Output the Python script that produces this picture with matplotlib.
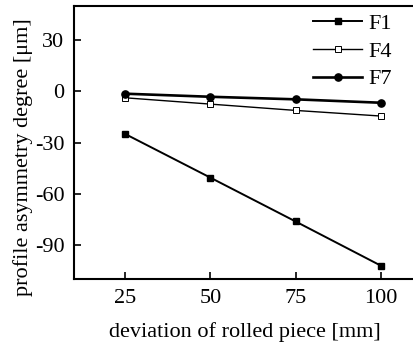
import matplotlib
matplotlib.use("Agg")
import matplotlib.pyplot as plt

x = [25, 50, 75, 100]
f1 = [-25.0, -50.6, -76.3, -102.2]
f4 = [-3.8, -7.5, -11.2, -14.5]
f7 = [-1.4, -3.2, -4.7, -6.7]
xticks = [25, 50, 75, 100]
yticks = [30, 0, -30, -60, -90]

plt.rcParams['font.family'] = ['Liberation Serif', 'DejaVu Serif']
plt.rcParams['axes.unicode_minus'] = False

fig = plt.figure(figsize=(4.13, 3.47), dpi=100)
ax = fig.add_axes([74/413, 1-279/347, (415-74)/413, (279-6)/347])

ax.plot(x, f1, color='black', lw=1.4, marker='s', ms=4.6, mfc='black', mec='black', label='F1')
ax.plot(x, f4, color='black', lw=1.0, marker='s', ms=4.3, mfc='white', mec='black', mew=0.7, label='F4')
ax.plot(x, f7, color='black', lw=1.9, marker='o', ms=5.2, mfc='black', mec='black', label='F7')

ax.set_xlim(10, 110)
ax.set_ylim(-110, 50)
ax.set_xticks(xticks)
ax.set_yticks(yticks)
ax.tick_params(direction='in', length=5, width=1.2, labelsize=16, pad=7)
for s in ax.spines.values():
    s.set_linewidth(1.5)
ax.spines['right'].set_visible(False)

ax.set_xlabel('deviation of rolled piece [mm]', fontsize=16, labelpad=10)
ax.set_ylabel('profile asymmetry degree [μm]', fontsize=16)
ax.yaxis.set_label_coords(-0.12, 0.445)

ax.legend(loc='upper right', frameon=False, fontsize=16, handlelength=2.2,
          handletextpad=0.3, labelspacing=0.32, borderaxespad=0.0,
          bbox_to_anchor=(0.959, 1.005))

fig.savefig('out.png', dpi=100)
